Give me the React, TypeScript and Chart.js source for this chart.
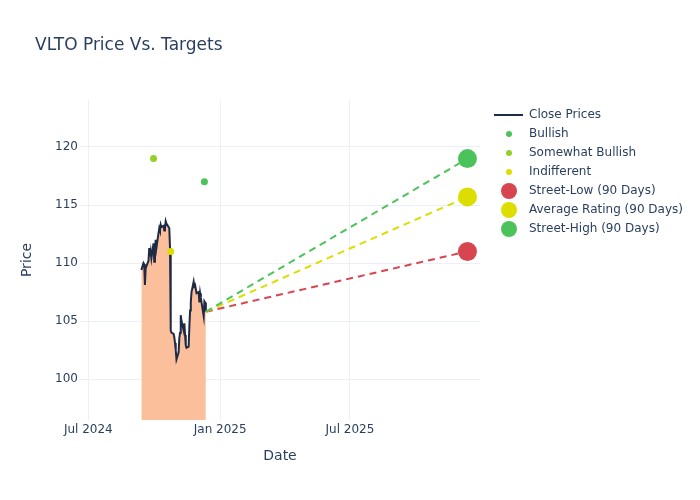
import { useEffect, useRef } from 'react';
import { Chart, registerables } from 'chart.js';

Chart.register(...registerables);

// ---- data ----
const closeDates = [
  '2024-09-13', '2024-09-16', '2024-09-17', '2024-09-18', '2024-09-19', '2024-09-20',
  '2024-09-23', '2024-09-24', '2024-09-25', '2024-09-26', '2024-09-27', '2024-09-30',
  '2024-10-01', '2024-10-02', '2024-10-03', '2024-10-04', '2024-10-07', '2024-10-08',
  '2024-10-09', '2024-10-10', '2024-10-11', '2024-10-14', '2024-10-15', '2024-10-16',
  '2024-10-17', '2024-10-18', '2024-10-21', '2024-10-22', '2024-10-23', '2024-10-24',
  '2024-10-25', '2024-10-28', '2024-10-29', '2024-10-30', '2024-10-31', '2024-11-01',
  '2024-11-04', '2024-11-05', '2024-11-06', '2024-11-07', '2024-11-08', '2024-11-11',
  '2024-11-12', '2024-11-13', '2024-11-14', '2024-11-15', '2024-11-18', '2024-11-19',
  '2024-11-20', '2024-11-21', '2024-11-22', '2024-11-25', '2024-11-26', '2024-11-27',
  '2024-11-29', '2024-12-02', '2024-12-03', '2024-12-04', '2024-12-05', '2024-12-06',
  '2024-12-09', '2024-12-10', '2024-12-11', '2024-12-12',
];
const closePrices = [
  109.4, 110.0, 109.9, 108.1, 109.5, 109.7,
  110.2, 111.3, 110.6, 111.0, 110.4, 111.7,
  110.1, 111.2, 112.0, 111.3, 112.6, 113.0,
  112.8, 113.3, 113.1, 113.2, 112.8, 113.0,
  113.6, 113.4, 113.1, 113.0, 111.3, 104.2,
  104.0, 103.9, 103.6, 103.1, 102.5, 101.7,
  102.3, 103.5, 104.0, 105.5, 105.0, 104.2,
  104.8, 103.8, 102.9, 102.7, 102.8, 104.5,
  105.9, 106.6, 107.5, 108.4, 108.0, 108.1,
  107.4, 107.5, 106.6, 107.4, 107.0, 106.6,
  105.4, 106.7, 106.6, 105.8,
];
const bullishDates = ['2024-12-10'];
const bullishPrices = [117];
const somewhatBullishDates = ['2024-09-30'];
const somewhatBullishPrices = [119];
const indifferentDates = ['2024-10-24'];
const indifferentPrices = [111];
const targetDate = '2025-12-12';
const streetLow = 111;
const averageRating = 115.7;
const streetHigh = 119;
const yTicks = [100, 105, 110, 115, 120];
const xTickDates = ['2024-07-01', '2025-01-01', '2025-07-01'];
const xTickLabels = ['Jul 2024', 'Jan 2025', 'Jul 2025'];
const legendLabels = [
  'Close Prices', 'Bullish', 'Somewhat Bullish', 'Indifferent',
  'Street-Low (90 Days)', 'Average Rating (90 Days)', 'Street-High (90 Days)',
];
const chartTitle = 'VLTO Price Vs. Targets';

// ---- styles ----
const FONT = "'DejaVu Sans', sans-serif";
const TEXT = '#2a3f5f';
const GRID = '#EBF0F8';
const LINE = '#1f2a44';
const FILL = '#FBBF9C';
const GREEN = '#4CC35A';
const YGREEN = '#94CF2A';
const YELLOW = '#DDDD00';
const RED = '#D64550';

const t = (s: string) => Date.parse(s + 'T00:00:00Z');

export default function App() {
  const ref = useRef<HTMLCanvasElement | null>(null);

  useEffect(() => {
    if (!ref.current) return;
    const lastX = t(closeDates[closeDates.length - 1]);
    const lastY = closePrices[closePrices.length - 1];
    const tx = t(targetDate);

    const legendColors = [LINE, GREEN, YGREEN, YELLOW, RED, YELLOW, GREEN];
    const overlay = {
      id: 'overlay',
      afterDraw(chart: any) {
        const ctx = chart.ctx;
        ctx.save();
        ctx.fillStyle = TEXT;
        ctx.font = `17px ${FONT}`;
        ctx.textBaseline = 'alphabetic';
        ctx.textAlign = 'left';
        ctx.fillText(chartTitle, 35, 50);

        ctx.font = `12px ${FONT}`;
        ctx.textBaseline = 'middle';
        legendLabels.forEach((lab, i) => {
          const y = 115 + i * 19;
          const c = legendColors[i];
          if (i === 0) {
            ctx.strokeStyle = c;
            ctx.lineWidth = 2;
            ctx.beginPath();
            ctx.moveTo(494, y);
            ctx.lineTo(523, y);
            ctx.stroke();
          } else {
            ctx.fillStyle = c;
            ctx.beginPath();
            ctx.arc(509, y, i <= 3 ? 3 : 8, 0, Math.PI * 2);
            ctx.fill();
          }
          ctx.fillStyle = TEXT;
          ctx.fillText(lab, 529, y);
        });
        ctx.restore();
      },
    };

    const pts = (ds: string[], vs: number[]) => ds.map((d, i) => ({ x: t(d), y: vs[i] }));

    const chart = new Chart(ref.current, {
      type: 'scatter',
      data: {
        datasets: [
          {
            label: 'Street-High (90 Days)', data: [{ x: tx, y: streetHigh }],
            backgroundColor: GREEN, pointRadius: 9.5, borderWidth: 0, order: 1,
          },
          {
            label: 'Average Rating (90 Days)', data: [{ x: tx, y: averageRating }],
            backgroundColor: YELLOW, pointRadius: 9.5, borderWidth: 0, order: 1,
          },
          {
            label: 'Street-Low (90 Days)', data: [{ x: tx, y: streetLow }],
            backgroundColor: RED, pointRadius: 9.5, borderWidth: 0, order: 1,
          },
          {
            label: 'Bullish', data: pts(bullishDates, bullishPrices),
            backgroundColor: GREEN, pointRadius: 3.5, borderWidth: 0, order: 2,
          },
          {
            label: 'Somewhat Bullish', data: pts(somewhatBullishDates, somewhatBullishPrices),
            backgroundColor: YGREEN, pointRadius: 3.5, borderWidth: 0, order: 2,
          },
          {
            label: 'Indifferent', data: pts(indifferentDates, indifferentPrices),
            backgroundColor: YELLOW, pointRadius: 3.5, borderWidth: 0, order: 2,
          },
          {
            label: 'high-line', data: [{ x: lastX, y: lastY }, { x: tx, y: streetHigh }],
            showLine: true, borderColor: GREEN, borderWidth: 2, borderDash: [7, 5],
            pointRadius: 0, fill: false, order: 3,
          },
          {
            label: 'avg-line', data: [{ x: lastX, y: lastY }, { x: tx, y: averageRating }],
            showLine: true, borderColor: YELLOW, borderWidth: 2, borderDash: [7, 5],
            pointRadius: 0, fill: false, order: 4,
          },
          {
            label: 'low-line', data: [{ x: lastX, y: lastY }, { x: tx, y: streetLow }],
            showLine: true, borderColor: RED, borderWidth: 2, borderDash: [7, 5],
            pointRadius: 0, fill: false, order: 5,
          },
          {
            label: 'Close Prices', data: pts(closeDates, closePrices),
            showLine: true, borderColor: LINE, borderWidth: 2, backgroundColor: FILL,
            fill: 'start', pointRadius: 0, tension: 0, order: 6,
          },
        ] as any,
      },
      options: {
        animation: false,
        responsive: false,
        maintainAspectRatio: false,
        layout: { padding: { left: 15, top: 100, right: 220, bottom: 0 } },
        plugins: {
          legend: { display: false },
          title: { display: false },
          tooltip: { enabled: false },
        },
        scales: {
          x: {
            type: 'linear',
            min: Date.UTC(2024, 5, 19, 10),
            max: Date.UTC(2025, 11, 29, 12),
            afterBuildTicks: (s: any) => {
              s.ticks = xTickDates.map((d) => ({ value: t(d) }));
            },
            afterFit: (s: any) => { s.height = 80; },
            ticks: {
              callback: (v: any) => {
                const i = xTickDates.findIndex((d) => t(d) === v);
                return i >= 0 ? xTickLabels[i] : '';
              },
              color: TEXT, font: { family: FONT, size: 12 }, padding: 3,
              maxRotation: 0, autoSkip: false,
            },
            grid: { color: GRID, lineWidth: 1, drawTicks: false },
            border: { display: false },
            title: {
              display: true, text: 'Date', color: TEXT,
              font: { family: FONT, size: 14 }, padding: { top: 0, bottom: 35 },
            },
          },
          y: {
            type: 'linear',
            min: 96.47,
            max: 124.05,
            afterBuildTicks: (s: any) => {
              s.ticks = yTicks.map((v) => ({ value: v }));
            },
            afterFit: (s: any) => { s.width = 65; },
            ticks: { color: TEXT, font: { family: FONT, size: 12 }, padding: 2 },
            grid: { color: GRID, lineWidth: 1, drawTicks: false },
            border: { display: false },
            title: {
              display: true, text: 'Price', color: TEXT,
              font: { family: FONT, size: 14 }, padding: { top: 4, bottom: 4 },
            },
          },
        },
      } as any,
      plugins: [overlay],
    });
    return () => chart.destroy();
  }, []);

  return (
    <div style={{ position: 'fixed', left: 0, top: 0, width: 700, height: 500, background: '#fff' }}>
      <canvas ref={ref} width={700} height={500} style={{ display: 'block', width: 700, height: 500 }} />
    </div>
  );
}
